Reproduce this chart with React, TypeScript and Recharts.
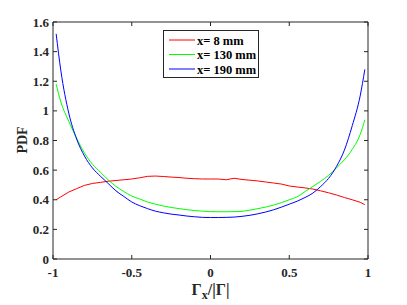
import React from "react";
import { LineChart, Line, XAxis, YAxis } from "recharts";

const xs = [-0.98, -0.95, -0.9, -0.85, -0.8, -0.75, -0.7, -0.65, -0.6, -0.55, -0.5, -0.45, -0.4, -0.35, -0.3, -0.25, -0.2, -0.15, -0.1, -0.05, 0, 0.05, 0.1, 0.15, 0.2, 0.25, 0.3, 0.35, 0.4, 0.45, 0.5, 0.55, 0.6, 0.65, 0.7, 0.75, 0.8, 0.85, 0.9, 0.95, 0.98];
const pdf8 = [0.4, 0.42, 0.452, 0.475, 0.497, 0.51, 0.517, 0.525, 0.53, 0.535, 0.54, 0.548, 0.558, 0.56, 0.557, 0.553, 0.55, 0.545, 0.542, 0.54, 0.54, 0.54, 0.535, 0.545, 0.537, 0.532, 0.527, 0.52, 0.513, 0.506, 0.493, 0.486, 0.48, 0.472, 0.46, 0.447, 0.432, 0.415, 0.4, 0.383, 0.367];
const pdf130 = [1.18, 1.06, 0.93, 0.815, 0.715, 0.64, 0.587, 0.535, 0.49, 0.455, 0.425, 0.405, 0.385, 0.37, 0.358, 0.348, 0.34, 0.333, 0.327, 0.323, 0.32, 0.319, 0.319, 0.32, 0.322, 0.33, 0.34, 0.35, 0.364, 0.38, 0.4, 0.42, 0.455, 0.49, 0.525, 0.565, 0.615, 0.67, 0.74, 0.84, 0.94];
const pdf190 = [1.52, 1.27, 0.985, 0.81, 0.695, 0.615, 0.56, 0.51, 0.46, 0.422, 0.385, 0.36, 0.34, 0.323, 0.312, 0.303, 0.297, 0.29, 0.285, 0.281, 0.28, 0.28, 0.281, 0.283, 0.288, 0.295, 0.305, 0.317, 0.332, 0.35, 0.37, 0.39, 0.415, 0.445, 0.49, 0.545, 0.625, 0.735, 0.9, 1.1, 1.28];
const xTicks = [-1, -0.5, 0, 0.5, 1];
const yTicks = [0, 0.2, 0.4, 0.6, 0.8, 1, 1.2, 1.4, 1.6];
const seriesNames = ["x= 8 mm", "x= 130 mm", "x= 190 mm"];
const seriesColors = ["#ff0000", "#00ff00", "#0000ff"];

const data = xs.map((x, i) => ({ x, a: pdf8[i], b: pdf130[i], c: pdf190[i] }));

const AX = "#262626";
const FONT = "'Liberation Serif', 'Times New Roman', serif";
const TL = 4;
const TFS = 13;

const LeftTick = (p: any) => (
  <g>
    <line x1={p.x} x2={p.x + TL} y1={p.y} y2={p.y} stroke={AX} strokeWidth={1} />
    <text x={p.x - 4} y={p.y + 4.5} textAnchor="end" fontFamily={FONT} fontWeight="bold" fontSize={TFS} fill={AX}>
      {String(p.payload.value)}
    </text>
  </g>
);
const RightTick = (p: any) => (
  <line x1={p.x} x2={p.x - TL} y1={p.y} y2={p.y} stroke={AX} strokeWidth={1} />
);
const BottomTick = (p: any) => (
  <g>
    <line x1={p.x} x2={p.x} y1={p.y} y2={p.y - TL} stroke={AX} strokeWidth={1} />
    <text x={p.x} y={p.y + 18} textAnchor="middle" fontFamily={FONT} fontWeight="bold" fontSize={TFS} fill={AX}>
      {String(p.payload.value)}
    </text>
  </g>
);
const TopTick = (p: any) => (
  <line x1={p.x} x2={p.x} y1={p.y} y2={p.y + TL} stroke={AX} strokeWidth={1} />
);

const XLabel = (p: any) => {
  const vb = p.viewBox || { x: 53, y: 259, width: 315 };
  const cx = vb.x + vb.width / 2;
  return (
    <text x={cx} y={259 + 36} textAnchor="middle" fontFamily={FONT} fontWeight="bold" fontSize={16} fill={AX}>
      Γ<tspan fontSize={12} dy={4}>x</tspan>
      <tspan dy={-4}>/|Γ|</tspan>
    </text>
  );
};
const YLabel = () => {
  const cy = 140;
  const cx = 27;
  return (
    <text x={cx} y={cy} transform={`rotate(-90 ${cx} ${cy})`} textAnchor="middle" fontFamily={FONT} fontWeight="bold" fontSize={14} fill={AX}>
      PDF
    </text>
  );
};

const LegendBox = () => (
  <svg width={96} height={48} style={{ display: "block" }}>
    <rect x={0.5} y={0.5} width={95} height={47} fill="#fff" stroke={AX} strokeWidth={1} />
    {seriesNames.map((n, i) => (
      <g key={n}>
        <line x1={6} x2={32} y1={10 + i * 14.5} y2={10 + i * 14.5} stroke={seriesColors[i]} strokeWidth={1} />
        <text x={34} y={14.5 + i * 14.5} fontFamily={FONT} fontWeight="bold" fontSize={12.5} fill="#000">
          {n}
        </text>
      </g>
    ))}
  </svg>
);

export default function App() {
  return (
    <div style={{ position: "absolute", left: 0, top: 0, width: 407, height: 305, background: "#fff" }}>
      <LineChart width={407} height={305} data={data} margin={{ top: 0, right: 0, bottom: 0, left: 0 }}>
        <XAxis
          dataKey="x"
          type="number"
          domain={[-1, 1]}
          ticks={xTicks}
          height={46}
          tickSize={0}
          tickMargin={0}
          tickLine={false}
          axisLine={{ stroke: AX, strokeWidth: 1 }}
          tick={<BottomTick />}
          label={<XLabel />}
          allowDataOverflow
        />
        <XAxis
          xAxisId="top"
          orientation="top"
          dataKey="x"
          type="number"
          domain={[-1, 1]}
          ticks={xTicks}
          height={22}
          tickSize={0}
          tickMargin={0}
          tickLine={false}
          axisLine={{ stroke: AX, strokeWidth: 1 }}
          tick={<TopTick />}
          allowDataOverflow
        />
        <YAxis
          type="number"
          domain={[0, 1.6]}
          ticks={yTicks}
          width={53}
          tickSize={0}
          tickMargin={0}
          tickLine={false}
          axisLine={{ stroke: AX, strokeWidth: 1 }}
          tick={<LeftTick />}
          label={<YLabel />}
          allowDataOverflow
        />
        <YAxis
          yAxisId="right"
          orientation="right"
          type="number"
          domain={[0, 1.6]}
          ticks={yTicks}
          width={39}
          tickSize={0}
          tickMargin={0}
          tickLine={false}
          axisLine={{ stroke: AX, strokeWidth: 1 }}
          tick={<RightTick />}
          allowDataOverflow
        />
        <Line dataKey="a" name={seriesNames[0]} stroke={seriesColors[0]} strokeWidth={1} dot={false} type="linear" isAnimationActive={false} />
        <Line dataKey="b" name={seriesNames[1]} stroke={seriesColors[1]} strokeWidth={1} dot={false} type="monotone" isAnimationActive={false} />
        <Line dataKey="c" name={seriesNames[2]} stroke={seriesColors[2]} strokeWidth={1} dot={false} type="monotone" isAnimationActive={false} />
      </LineChart>
      <div style={{ position: "absolute", left: 163, top: 30 }}>
        <LegendBox />
      </div>
    </div>
  );
}
